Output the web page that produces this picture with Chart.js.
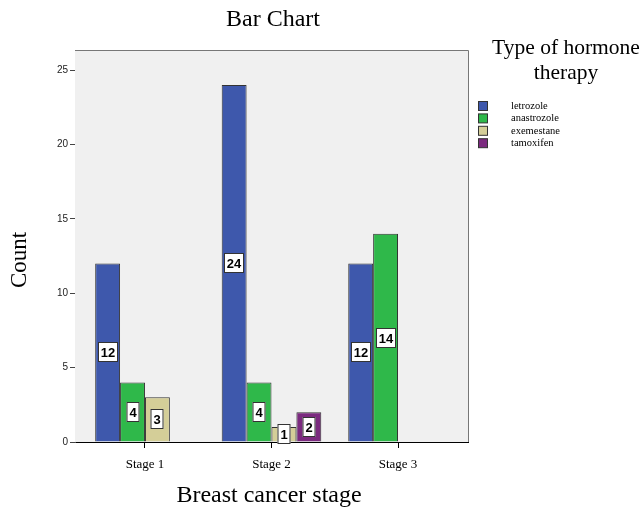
<!DOCTYPE html>
<html lang="en">
<head>
  <meta charset="UTF-8">
  <title>Bar Chart</title>
  <script src="https://cdn.jsdelivr.net/npm/chart.js"></script>
  <style>
    html, body { margin: 0; padding: 0; background: #fff; }
    #wrap { width: 642px; height: 509px; }
  </style>
</head>
<body>
  <div id="wrap"><canvas id="barChart" width="642" height="509"></canvas></div>

  <script>
    // data
    const stages = ['Stage 1', 'Stage 2', 'Stage 3'];
    const therapies = ['letrozole', 'anastrozole', 'exemestane', 'tamoxifen'];
    const letrozole = [12, 24, 12];
    const anastrozole = [4, 4, 14];
    const exemestane = [3, 1, null];
    const tamoxifen = [null, 2, null];
    const yTicks = [0, 5, 10, 15, 20, 25];

    const colors = ['#3E58AC', '#2FB84A', '#D4CE98', '#7B2A7F'];
    const serif = '"Liberation Serif", "Times New Roman", serif';
    const sans = '"Liberation Sans", Arial, sans-serif';

    // plot background, frame, titles, legend, value boxes
    const spssLook = {
      id: 'spssLook',
      beforeDatasetsDraw(chart) {
        const { ctx, chartArea: a } = chart;
        ctx.save();
        ctx.fillStyle = '#F0F0F0';
        ctx.fillRect(a.left, a.top, a.right - a.left, a.bottom - a.top);
        ctx.strokeStyle = '#777';
        ctx.lineWidth = 1;
        ctx.beginPath();
        ctx.moveTo(a.left, a.top + 0.5);
        ctx.lineTo(a.right + 0.5, a.top + 0.5);
        ctx.lineTo(a.right + 0.5, a.bottom);
        ctx.stroke();
        ctx.restore();
      },
      afterDraw(chart) {
        const { ctx } = chart;
        ctx.save();
        ctx.fillStyle = '#000';
        ctx.textAlign = 'center';
        ctx.textBaseline = 'middle';

        ctx.font = '24px ' + serif;
        ctx.fillText('Bar Chart', 273, 20);
        ctx.fillText('Breast cancer stage', 269, 496);

        ctx.save();
        ctx.font = '23px ' + serif;
        ctx.translate(20, 260);
        ctx.rotate(-Math.PI / 2);
        ctx.fillText('Count', 0, 0);
        ctx.restore();

        // legend
        ctx.font = '21.5px ' + serif;
        ctx.fillText('Type of hormone', 566, 48);
        ctx.fillText('therapy', 566, 73);
        ctx.textAlign = 'left';
        ctx.font = '10.5px ' + serif;
        therapies.forEach((name, i) => {
          const y = 106 + i * 12.4;
          ctx.fillStyle = colors[i];
          ctx.fillRect(478.5, y - 4.5, 9, 9);
          ctx.strokeStyle = '#333';
          ctx.strokeRect(478.5, y - 4.5, 9, 9);
          ctx.fillStyle = '#000';
          ctx.fillText(name, 511, y);
        });

        // value boxes in the middle of the bars
        ctx.font = 'bold 13px ' + sans;
        ctx.textAlign = 'center';
        chart.data.datasets.forEach((ds, di) => {
          const meta = chart.getDatasetMeta(di);
          meta.data.forEach((bar, i) => {
            const v = ds.data[i];
            if (v === null || v === undefined) return;
            const cx = Math.round(bar.x);
            const cy = Math.round((bar.y + bar.base) / 2);
            const label = String(v);
            const w = Math.round(ctx.measureText(label).width) + 6;
            const h = 20;
            ctx.fillStyle = '#fff';
            ctx.fillRect(cx - w / 2, cy - h / 2, w, h);
            ctx.strokeStyle = '#333';
            ctx.lineWidth = 1;
            ctx.strokeRect(cx - w / 2 + 0.5, cy - h / 2 + 0.5, w - 1, h - 1);
            ctx.fillStyle = '#000';
            ctx.fillText(label, cx, cy + 1);
          });
        });
        ctx.restore();
      }
    };

    const series = [letrozole, anastrozole, exemestane, tamoxifen];

    new Chart(document.getElementById('barChart'), {
      type: 'bar',
      data: {
        labels: stages,
        datasets: therapies.map((name, i) => ({
          label: name,
          data: series[i],
          backgroundColor: colors[i],
          borderColor: '#333',
          borderWidth: 1,
          categoryPercentage: 0.787,
          barPercentage: 1
        }))
      },
      options: {
        responsive: false,
        animation: false,
        layout: { padding: { top: 50, right: 174, left: 0, bottom: 0 } },
        plugins: {
          legend: { display: false },
          tooltip: { enabled: false },
          title: { display: false }
        },
        scales: {
          x: {
            offset: true,
            afterFit: s => { s.height = 67; },
            afterBuildTicks: s => { s._startValue = -0.553; s._valueRange = 3.106; },
            grid: { offset: false, drawOnChartArea: false, tickLength: 6, color: '#000' },
            border: { color: '#000', width: 1 },
            ticks: { color: '#000', padding: 9, font: { family: serif, size: 13 } }
          },
          y: {
            min: 0,
            max: 26.35,
            afterFit: s => { s.width = 75; },
            afterBuildTicks: s => { s.ticks = yTicks.map(v => ({ value: v })); },
            grid: { drawOnChartArea: false, tickLength: 5, color: '#444' },
            border: { color: '#555', width: 1 },
            ticks: { color: '#222', padding: 2, font: { family: sans, size: 10 } }
          }
        }
      },
      plugins: [spssLook]
    });
  </script>
</body>
</html>
